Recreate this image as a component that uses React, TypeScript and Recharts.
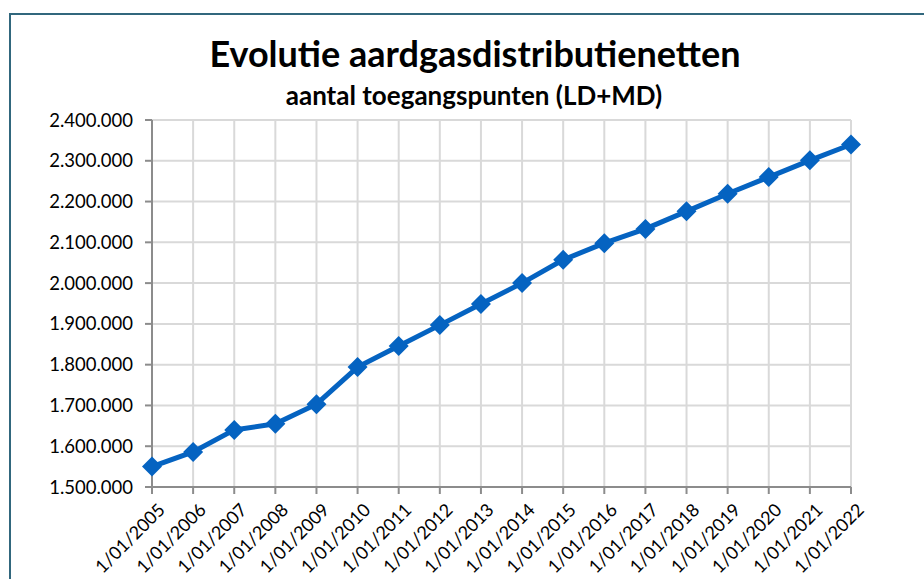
import { LineChart, Line, XAxis, YAxis, CartesianGrid } from 'recharts';

const years = [
  '1/01/2005', '1/01/2006', '1/01/2007', '1/01/2008', '1/01/2009', '1/01/2010',
  '1/01/2011', '1/01/2012', '1/01/2013', '1/01/2014', '1/01/2015', '1/01/2016',
  '1/01/2017', '1/01/2018', '1/01/2019', '1/01/2020', '1/01/2021', '1/01/2022',
];

const accessPoints = [
  1550000, 1586000, 1640000, 1655000, 1703000, 1794000,
  1846000, 1897000, 1949000, 2000000, 2057000, 2098000,
  2133000, 2176000, 2219000, 2260000, 2301000, 2340000,
];

const yTicks = [1500000, 1600000, 1700000, 1800000, 1900000, 2000000, 2100000, 2200000, 2300000, 2400000];

const data = years.map((d, i) => ({ date: d, value: accessPoints[i] }));

const FONT = 'Lato, "Open Sans", sans-serif';

const fmt = (v: number) => String(v).replace(/\B(?=(\d{3})+(?!\d))/g, '.');

function Diamond(props: any) {
  const { cx, cy } = props;
  if (cx == null || cy == null) return null;
  const r = 10;
  return (
    <path
      d={`M${cx},${cy - r}L${cx + r},${cy}L${cx},${cy + r}L${cx - r},${cy}Z`}
      fill="#0563C1"
    />
  );
}

function DateTick(props: any) {
  const { x, y, payload } = props;
  return (
    <text
      x={x + 5}
      y={y + 6}
      textAnchor="end"
      transform={`rotate(-45, ${x + 5}, ${y + 6})`}
      fontSize={18}
      fontFamily={FONT}
      fill="#000"
      dy="0.71em"
    >
      {payload.value}
    </text>
  );
}

export default function App() {
  return (
    <div style={{ position: 'fixed', left: 0, top: 0, width: 924, height: 579, overflow: 'hidden', background: '#fff' }}>
      <div
        style={{
          position: 'absolute', left: 9, top: 13, width: 1000, height: 800,
          border: '2px solid #31677d', boxSizing: 'border-box',
        }}
      />
      <div style={{ position: 'absolute', left: 0, top: 0 }}>
        <LineChart
          width={924}
          height={579}
          data={data}
          margin={{ top: 120, right: 73, bottom: 0, left: 0 }}
        >
          <CartesianGrid stroke="#d9d9d9" strokeWidth={2} />
          <XAxis
            dataKey="date"
            height={92}
            interval={0}
            tick={<DateTick />}
            tickSize={7}
            axisLine={{ stroke: '#8c8c8c', strokeWidth: 2 }}
            tickLine={{ stroke: '#8c8c8c', strokeWidth: 2 }}
          />
          <YAxis
            width={152}
            domain={[1500000, 2400000]}
            ticks={yTicks}
            tickFormatter={fmt}
            tickSize={7}
            tickMargin={12}
            interval={0}
            tick={{ fontSize: 18.5, fontFamily: FONT, fill: '#000' }}
            axisLine={{ stroke: '#8c8c8c', strokeWidth: 2 }}
            tickLine={{ stroke: '#8c8c8c', strokeWidth: 2 }}
          />
          <Line
            type="linear"
            dataKey="value"
            stroke="#0563C1"
            strokeWidth={5}
            dot={<Diamond />}
            activeDot={false}
            isAnimationActive={false}
          />
        </LineChart>
      </div>
      <svg width={924} height={130} style={{ position: 'absolute', left: 0, top: 0 }}>
        <text x={475} y={67} textAnchor="middle" fontFamily={FONT} fontWeight={700} fontSize={36} fill="#000">
          Evolutie aardgasdistributienetten
        </text>
        <text x={474} y={105} textAnchor="middle" fontFamily={FONT} fontWeight={700} fontSize={26} fill="#000">
          aantal toegangspunten (LD+MD)
        </text>
      </svg>
    </div>
  );
}
